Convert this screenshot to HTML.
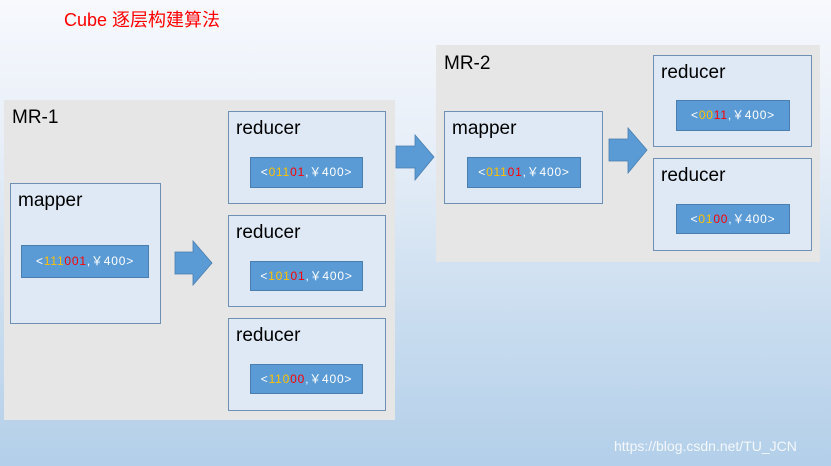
<!DOCTYPE html>
<html><head><meta charset="utf-8"><style>
body{margin:0;width:831px;height:466px;position:relative;overflow:hidden;font-family:"Liberation Sans","Noto Sans CJK SC",sans-serif;
background:linear-gradient(180deg,#f7f9fd 0%,#e8eff8 30%,#c8dcef 70%,#b3cfe9 100%);}
.abs{position:absolute;box-sizing:border-box;}
.mr{background:#e6e6e6;}
.box{background:#dee9f5;border:1px solid #6f8fb3;}
.lbl{position:absolute;left:7px;top:6px;font-size:19px;color:#000;}
.in{background:#5b9bd5;border:1px solid #4a7eae;color:#fff;font-size:12px;text-align:center;letter-spacing:0.8px;}
.y{color:#ffc000}.r{color:#ff0000}
</style></head><body>
<div class="abs" style="left:64px;top:6px;font-size:18px;color:#f00;">Cube 逐层构建算法</div>

<div class="abs mr" style="left:4px;top:100px;width:391px;height:320px;"></div>
<div class="abs" style="left:12px;top:107px;font-size:19px;">MR-1</div>
<div class="abs box" style="left:10px;top:183px;width:151px;height:141px;"><span class="lbl">mapper</span></div>
<div class="abs in" style="left:21px;top:245px;width:128px;height:33px;line-height:31px;">&lt;<span class="y">111</span><span class="r">001</span>,￥400&gt;</div>

<div class="abs box" style="left:228px;top:111px;width:158px;height:93px;"><span class="lbl">reducer</span></div>
<div class="abs in" style="left:250px;top:157px;width:113px;height:31px;line-height:29px;">&lt;<span class="y">011</span><span class="r">01</span>,￥400&gt;</div>
<div class="abs box" style="left:228px;top:215px;width:158px;height:92px;"><span class="lbl">reducer</span></div>
<div class="abs in" style="left:250px;top:261px;width:113px;height:30px;line-height:28px;">&lt;<span class="y">101</span><span class="r">01</span>,￥400&gt;</div>
<div class="abs box" style="left:228px;top:318px;width:158px;height:93px;"><span class="lbl">reducer</span></div>
<div class="abs in" style="left:250px;top:364px;width:113px;height:30px;line-height:28px;">&lt;<span class="y">110</span><span class="r">00</span>,￥400&gt;</div>

<div class="abs mr" style="left:436px;top:45px;width:384px;height:217px;"></div>
<div class="abs" style="left:444px;top:53px;font-size:19px;">MR-2</div>
<div class="abs box" style="left:444px;top:111px;width:159px;height:93px;"><span class="lbl">mapper</span></div>
<div class="abs in" style="left:467px;top:157px;width:114px;height:31px;line-height:29px;">&lt;<span class="y">011</span><span class="r">01</span>,￥400&gt;</div>
<div class="abs box" style="left:653px;top:55px;width:159px;height:92px;"><span class="lbl">reducer</span></div>
<div class="abs in" style="left:676px;top:100px;width:114px;height:31px;line-height:29px;">&lt;<span class="y">00</span><span class="r">11</span>,￥400&gt;</div>
<div class="abs box" style="left:653px;top:158px;width:159px;height:93px;"><span class="lbl">reducer</span></div>
<div class="abs in" style="left:676px;top:204px;width:114px;height:30px;line-height:28px;">&lt;<span class="y">01</span><span class="r">00</span>,￥400&gt;</div>

<svg class="abs" style="left:0;top:0" width="831" height="466">
<g fill="#5b9bd5" stroke="#4a7eae" stroke-width="0.8">
<polygon points="175,252 193,252 193,241 212,263 193,285 193,274 175,274"/>
<polygon points="396,146 415,146 415,135 434,157 415,180 415,168 396,168"/>
<polygon points="609,139 628,139 628,128 647,150 628,173 628,161 609,161"/>
</g></svg>
<div class="abs" style="left:614px;top:438px;font-size:14px;color:#f4f7fb;">https://blog.csdn.net/TU_JCN</div>
</body></html>
